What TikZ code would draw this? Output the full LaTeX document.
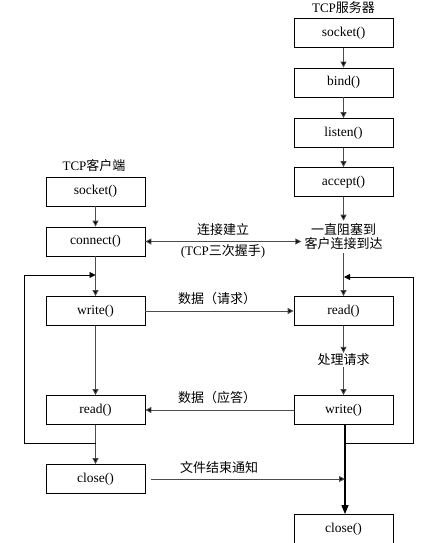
\documentclass[tikz,border=0pt]{standalone}
\usepackage{fontspec}
\setmainfont{Liberation Serif}
\newfontfamily\cjk{Noto Sans CJK SC}
\usetikzlibrary{arrows.meta}
\tikzset{
  fn/.style={draw=black, line width=0.8pt, minimum width=99pt, minimum height=29pt, inner sep=0pt, font=\fontsize{13.5}{15}\selectfont},
  lbl/.style={inner sep=1pt, font=\fontsize{13}{15}\selectfont, align=center},
  tip/.style={-{Triangle[length=6pt,width=6pt,fill=black]}},
  con/.style={draw=black!70, line width=0.9pt, tip},
  ln/.style={draw=black, line width=0.8pt},
}
\begin{document}
\begin{tikzpicture}[x=1pt,y=-1pt]
\useasboundingbox (0,0) rectangle (422,543);
\clip (0,0) rectangle (422,543);
% server
\node[lbl] (stitle) at (343.5,8) {TCP{\cjk 服务器}};
\node[fn] (ssocket) at (343.5,33) {socket()};
\node[fn] (sbind) at (343.5,82.5) {bind()};
\node[fn] (slisten) at (343.5,133) {listen()};
\node[fn] (saccept) at (343.5,182) {accept()};
\node[lbl, inner sep=3pt] (wait) at (343.5,237) {{\cjk 一直阻塞到}\\[-1pt]{\cjk 客户连接到达}};
\node[fn] (sread) at (343.5,311) {read()};
\node[lbl] (proc) at (343.5,360) {\cjk 处理请求};
\node[fn] (swrite) at (343.5,410) {write()};
\node[fn] (sclose) at (343.5,529) {close()};
% client
\node[lbl] (ctitle) at (94,166) {TCP{\cjk 客户端}};
\node[fn] (csocket) at (95.5,191.5) {socket()};
\node[fn] (cconnect) at (95.5,241.5) {connect()};
\node[fn] (cwrite) at (95.5,311) {write()};
\node[fn] (cread) at (95.5,410) {read()};
\node[fn] (cclose) at (95.5,479) {close()};
% labels
\node[lbl] (l1) at (223,230) {\cjk 连接建立};
\node[lbl] (l2) at (223,251) {(TCP{\cjk 三次握手})};
\node[lbl] (l3) at (217,299) {\cjk 数据（请求）};
\node[lbl] (l4) at (217,398) {\cjk 数据（应答）};
\node[lbl] (l5) at (219,468) {\cjk 文件结束通知};
% server flow
\draw[con] (ssocket) -- (sbind);
\draw[con] (sbind) -- (slisten);
\draw[con] (slisten) -- (saccept);
\draw[con] (saccept) -- (wait.north -| saccept);
\draw[con] (wait.south -| sread) -- (sread);
\draw[con] (sread) -- (proc.north -| sread);
\draw[con] (proc.south -| swrite) -- (swrite);
\draw[draw=black, line width=1.1pt, -{Triangle[length=9pt,width=7pt]}] ([xshift=1.5pt]swrite.south) -- ([xshift=1.5pt]sclose.north);
\coordinate (rj) at (345,443);
\coordinate (rr) at (413,443);
\coordinate (rt) at (413,277);
\coordinate (ra) at (344,277);
\draw[ln, tip] (rj) -- (rr) -- (rt) -- (ra);
% client flow
\draw[con] (csocket) -- (cconnect);
\draw[con] (cconnect) -- (cwrite);
\draw[con] (cwrite) -- (cread);
\draw[con] (cread) -- (cclose);
\coordinate (lj) at (95.5,443);
\coordinate (ll) at (24,443);
\coordinate (lt) at (24,275);
\coordinate (la) at (95.5,275);
\draw[ln, tip] (lj) -- (ll) -- (lt) -- (la);
% cross
\draw[con, {Triangle[length=6pt,width=6pt,fill=black]}-{Triangle[length=6pt,width=6pt,fill=black]}] (cconnect.east) -- (cconnect.east -| wait.west);
\draw[con] (cwrite) -- (sread);
\draw[con] (swrite) -- (cread);
\coordinate (ce) at (345,479);
\draw[con] ([xshift=6pt]cclose.east) -- (ce);
\end{tikzpicture}
\end{document}
